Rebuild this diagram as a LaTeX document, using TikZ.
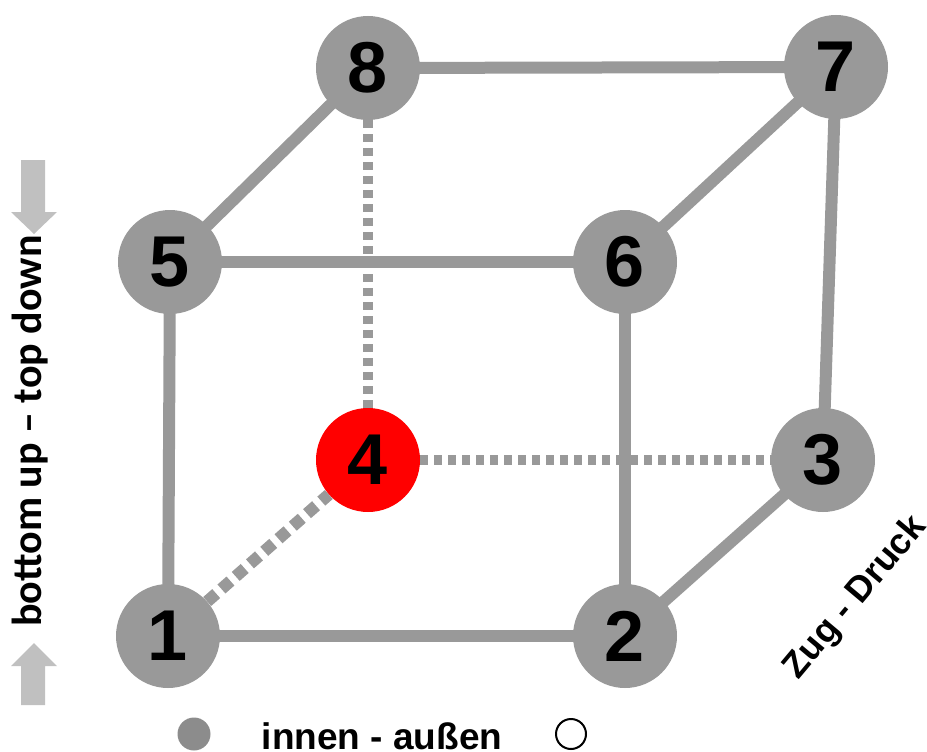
\documentclass[tikz,border=0pt]{standalone}
\usepackage{fontspec}
\setmainfont{Liberation Sans}
\newfontfamily\leftfont{Carlito}
\usetikzlibrary{backgrounds}
\definecolor{edgegray}{HTML}{999999}
\definecolor{nodegray}{HTML}{999999}
\definecolor{legendgray}{HTML}{8C8C8C}
\definecolor{arrowgray}{HTML}{C0C0C0}
\tikzset{
  vertex/.style={circle, fill=nodegray, minimum size=104pt, inner sep=0pt,
    font=\fontsize{72}{72}\selectfont\bfseries, text=black},
  redvertex/.style={vertex, fill=red},
  edge/.style={draw=edgegray, line width=12pt},
  dashedge/.style={draw=edgegray, line width=10pt, dash pattern=on 8pt off 6pt},
  diagedge/.style={draw=edgegray, line width=12pt, dash pattern=on 12pt off 7pt},
  labeltext/.style={font=\fontsize{36}{36}\selectfont\bfseries, text=black, inner sep=0pt},
}
\begin{document}
\begin{tikzpicture}[x=1pt,y=-1pt]
\useasboundingbox (0,0) rectangle (927,752);
% nodes
\node[vertex] (n1) at (168,636) {1};
\node[vertex] (n2) at (625,636) {2};
\node[vertex] (n3) at (823,460) {3};
\node[redvertex] (n4) at (368,460) {4};
\node[vertex] (n5) at (170,262) {5};
\node[vertex] (n6) at (625,262) {6};
\node[vertex] (n7) at (836,67) {7};
\node[vertex] (n8) at (368,68) {8};
\begin{scope}[on background layer]
\draw[edge] (n1.center) -- (n2.center);
\draw[edge] (n1.center) -- (n5.center);
\draw[edge] (n5.center) -- (n6.center);
\draw[edge] (n5.center) -- (n8.center);
\draw[edge] (n8.center) -- (n7.center);
\draw[edge] (n7.center) -- (n6.center);
\draw[edge] (n7.center) -- (n3.center);
\draw[edge] (n3.center) -- (n2.center);
\draw[edge] (n6.center) -- (n2.center);
\draw[dashedge] (n8) -- (n4);
\draw[dashedge] (n4) -- (n3);
\draw[diagedge] (n1) -- (n4);
\end{scope}
% left arrows
\fill[arrowgray] (21,160) -- (45,160) -- (45,212) -- (57,212) -- (34,234) -- (11,212) -- (21,212) -- cycle;
\fill[arrowgray] (21,705) -- (45,705) -- (45,666) -- (57,666) -- (34,643) -- (11,666) -- (21,666) -- cycle;
\node[rotate=90, font=\leftfont\fontsize{42}{42}\selectfont\bfseries, inner sep=0pt] (lefttext) at (30,431) {bottom up – top down};
% Zug - Druck
\node[labeltext, font=\fontsize{36}{36}\selectfont\bfseries, rotate=50] (zug) at (856,598) {Zug - Druck};
% legend
\node[circle, fill=legendgray, minimum size=33pt, inner sep=0pt] (lin) at (194,734) {};
\node[labeltext, font=\fontsize{37}{37}\selectfont\bfseries, anchor=base] (legtext) at (382,749) {innen - außen};
\node[circle, draw=black, line width=2pt, fill=white, minimum size=30pt, inner sep=0pt] (lout) at (571,734) {};
\end{tikzpicture}
\end{document}
